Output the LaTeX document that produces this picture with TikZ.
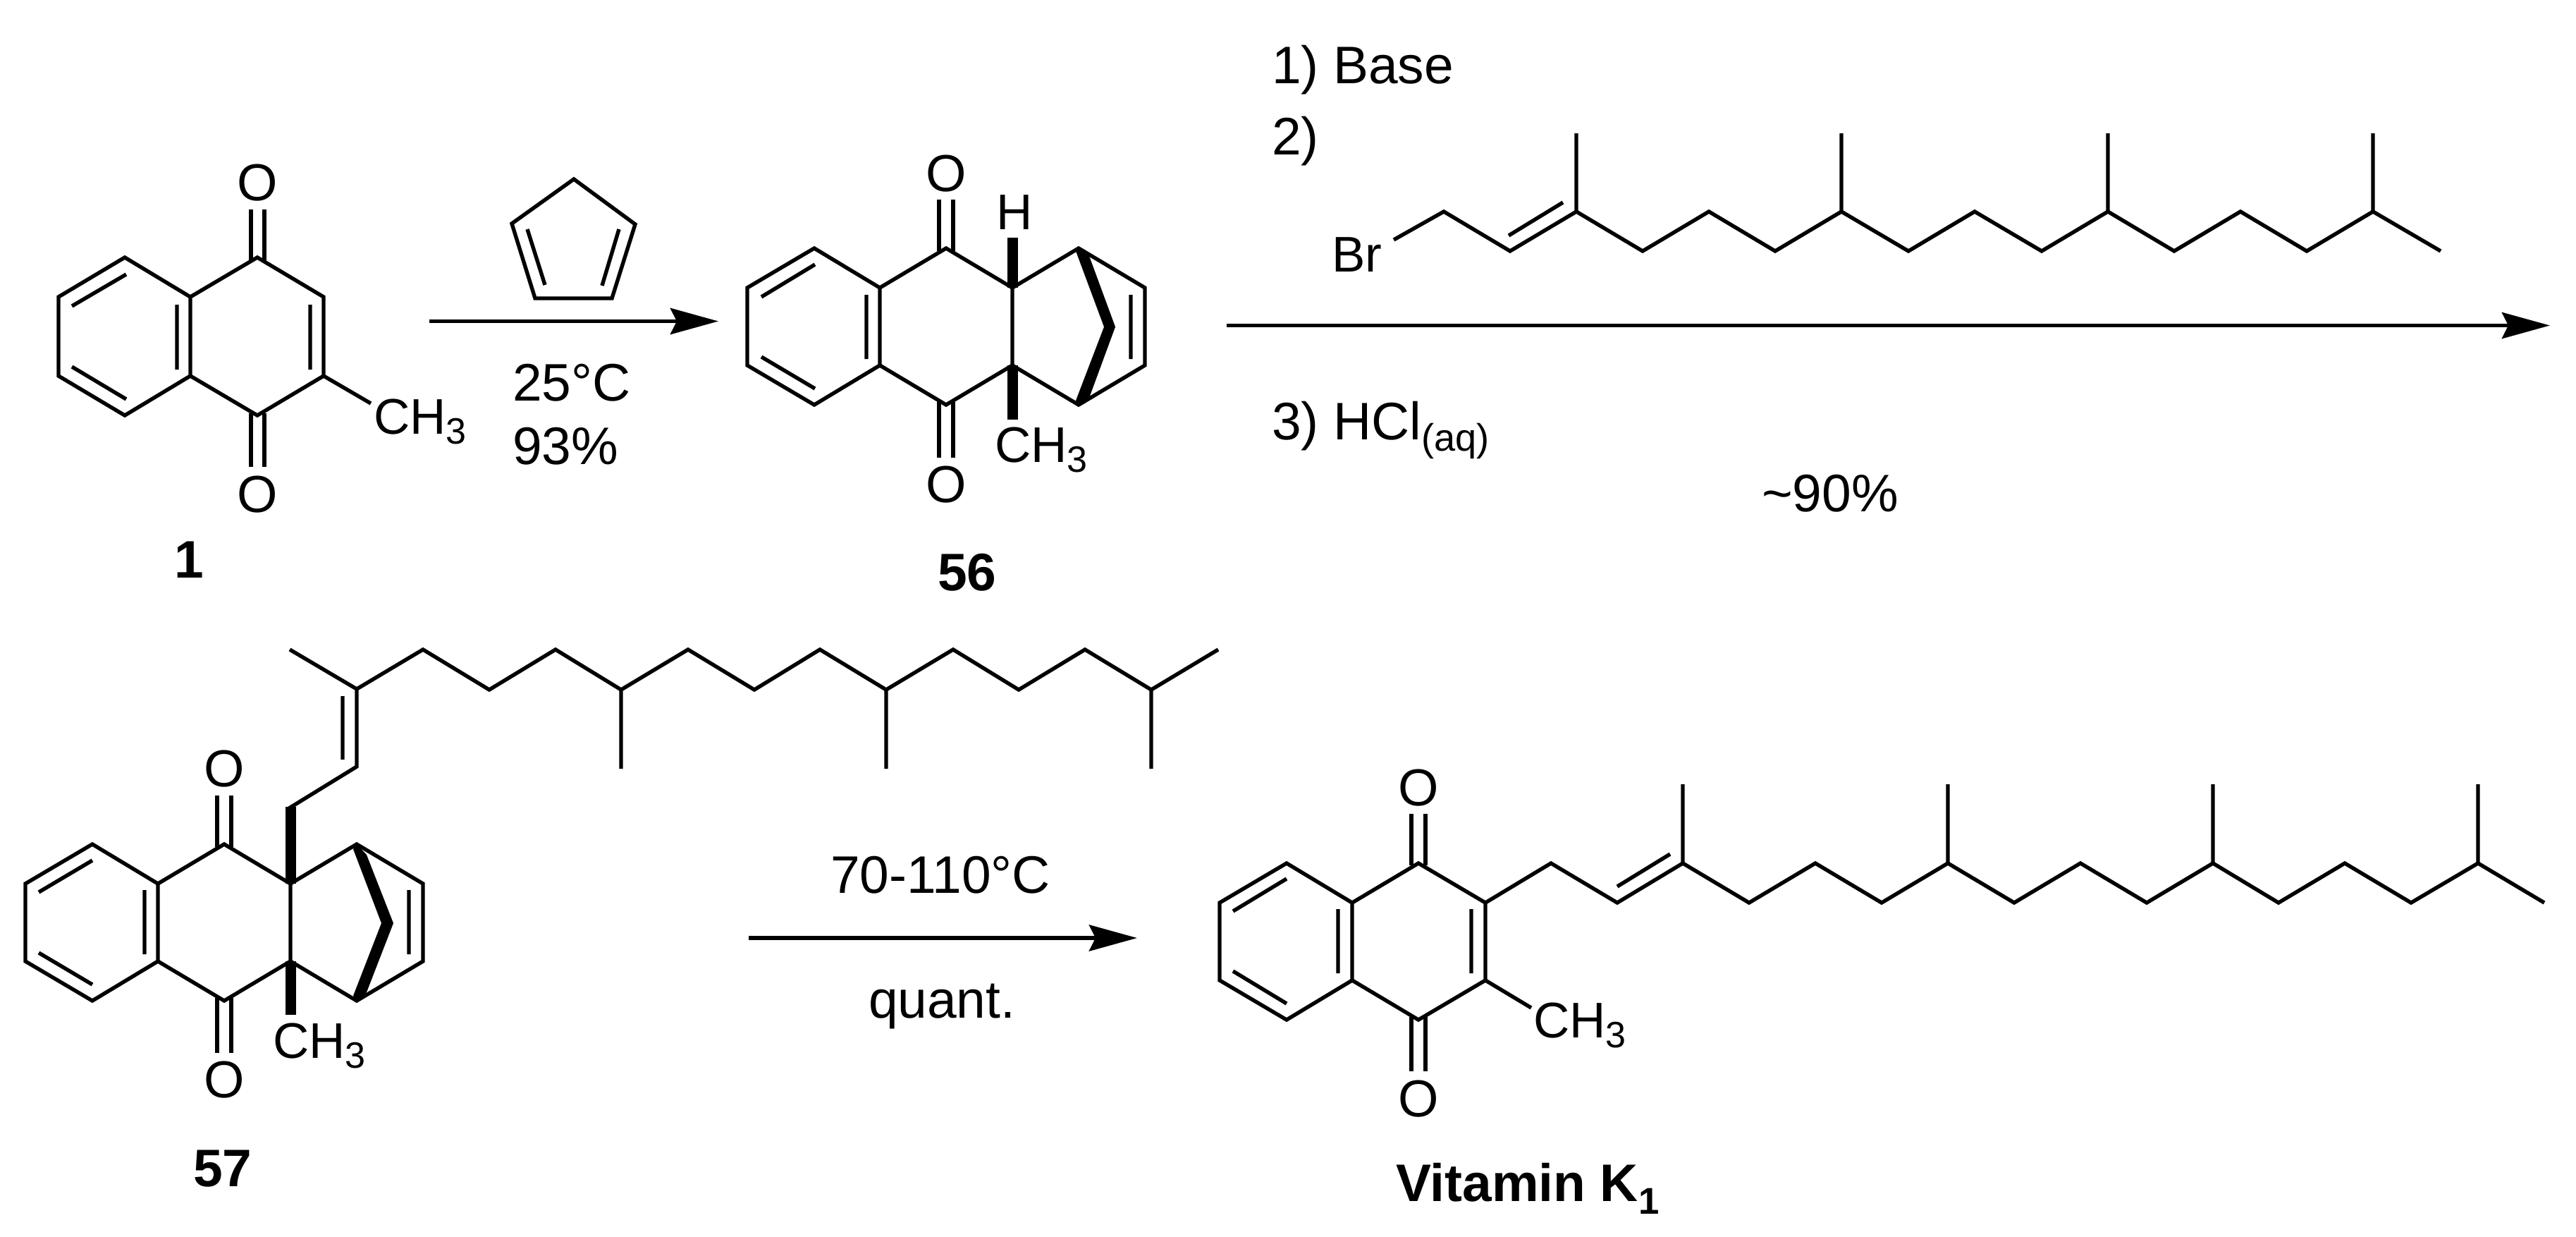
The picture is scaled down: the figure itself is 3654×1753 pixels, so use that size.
\documentclass[tikz,border=0pt]{standalone}
\usepackage{fontspec}
\setmainfont{Liberation Sans}
\usetikzlibrary{arrows.meta}
\newcommand{\lblfont}{\fontsize{20.2}{20.2}\selectfont}
\newcommand{\oxyfont}{\fontsize{21}{21}\selectfont}
\newcommand{\rgtfont}{\fontsize{21.3}{21.3}\selectfont}
\newcommand{\subfont}{\fontsize{14.8}{14.8}\selectfont}
\newcommand{\subthree}{\raisebox{-0.14cm}{\subfont 3}}
\tikzset{
  x=0.01cm, y=-0.01cm,
  bond/.style={line width=0.054cm, line join=miter},
  boldbond/.style={line width=0.15cm},
  solidwedge/.style={fill=black, draw=none},
  rxn/.style={line width=0.058cm, -{Stealth[length=0.68cm, width=0.37cm, inset=0.09cm]}},
  txt/.style={inner sep=0pt, outer sep=0pt, anchor=base west, font=\lblfont},
  rgt/.style={inner sep=0pt, outer sep=0pt, anchor=base west, font=\rgtfont},
  lab/.style={inner sep=0pt, outer sep=0pt, anchor=base west, font=\rgtfont\bfseries},
  oxy/.style={inner sep=0pt, outer sep=0pt, anchor=center, font=\oxyfont},
}
\begin{document}
\begin{tikzpicture}
\useasboundingbox (0,0) rectangle (3654,1753);
% ---------- compound 1
\foreach \n/\p in {a1/{83,421},a2/{177,365},a3/{270,421},a4/{270,533},a5/{177,589},a6/{83,533},a7/{365,365},a8/{459,421},a9/{459,533},a10/{365,589},
 ai1/{102,434},ai2/{179,389},ai3/{102,520},ai4/{179,566},ai5/{251,432},ai6/{251,524},ai7/{440,432},ai8/{440,524},
 ao1/{356,297},ao2/{356,370},ao3/{375,297},ao4/{375,370},ao5/{356,586},ao6/{356,662},ao7/{375,586},ao8/{375,662},ame/{526,572}}
 {\coordinate (\n) at (\p);}
\draw[bond] (a1)--(a2)--(a3)--(a4)--(a5)--(a6)--cycle;
\draw[bond] (a3)--(a7)--(a8)--(a9)--(a10)--(a4);
\draw[bond] (ai1)--(ai2) (ai3)--(ai4) (ai5)--(ai6) (ai7)--(ai8);
\draw[bond] (ao1)--(ao2) (ao3)--(ao4) (ao5)--(ao6) (ao7)--(ao8);
\draw[bond] (a9)--(ame);
\node[oxy] (aO1) at (365,259) {O};
\node[oxy] (aO2) at (365,701) {O};
\node[txt] (aMe) at (530,615) {CH\subthree};
\node[lab] (l1) at (247,819) {1};
% ---------- cyclopentadiene
\foreach \n/\p in {p1/{814,254},p2/{726,317},p3/{901,318},p4/{759,423},p5/{868,423},pi1/{748,325},pi2/{773,404},pi3/{878,325},pi4/{854,405}}
 {\coordinate (\n) at (\p);}
\draw[bond] (p1)--(p3)--(p5)--(p4)--(p2)--cycle;
\draw[bond] (pi1)--(pi2) (pi3)--(pi4);
\coordinate (r1s) at (609,455.5); \coordinate (r1e) at (1019,455.5);
\draw[rxn] (r1s)--(r1e);
\node[rgt] (t25) at (727,568) {25°C};
\node[rgt] (t93) at (727,658) {93\%};
% ---------- compound 56
\foreach \n/\p in {b1/{1060,408},b2/{1155,352},b3/{1248,408},b4/{1248,518},b5/{1155,574},b6/{1060,518},b7/{1342,352},b8/{1436,408},b9/{1436,518},b10/{1342,574},b11/{1530,352},b12/{1624,408},b13/{1624,518},b14/{1530,574},
 bi1/{1080,421},bi2/{1156,375},bi3/{1080,506},bi4/{1156,551},bi5/{1229,418},bi6/{1229,509},bi7/{1604,418},bi8/{1604,509},
 bo1/{1332,283},bo2/{1332,356},bo3/{1352,283},bo4/{1352,356},bo5/{1332,570},bo6/{1332,649},bo7/{1352,570},bo8/{1352,649},
 bh/{1436,337},bm/{1436,595}}
 {\coordinate (\n) at (\p);}
\draw[bond] (b1)--(b2)--(b3)--(b4)--(b5)--(b6)--cycle;
\draw[bond] (b3)--(b7)--(b8)--(b9)--(b10)--(b4);
\draw[bond] (b8)--(b11)--(b12)--(b13)--(b14)--(b9);
\draw[bond] (bi1)--(bi2) (bi3)--(bi4) (bi5)--(bi6) (bi7)--(bi8);
\draw[bond] (bo1)--(bo2) (bo3)--(bo4) (bo5)--(bo6) (bo7)--(bo8);
\draw[boldbond] (b8)--(bh) (b9)--(bm);
\fill[solidwedge] (1526,356)--(b11)--(1545,363)--(1582,463.5)--(1545,564)--(b14)--(1526,568)--(1566,463.5)--cycle;
\node[oxy] (bO1) at (1342,246) {O};
\node[oxy] (bO2) at (1342,687) {O};
\node[txt] (bH) at (1413,325) {H};
\node[txt] (bMe) at (1411,655) {CH\subthree};
\node[lab] (l56) at (1330,837) {56};
% ---------- bromide reagent
\foreach \n/\p in {r0/{1977,340},r1/{2048,300},r2/{2142,356},r3/{2236,300},r4/{2330,356},r5/{2424,300},r6/{2518,356},r7/{2612,300},r8/{2707,356},r9/{2801,300},r10/{2896,356},r11/{2990,300},r12/{3084,356},r13/{3178,300},r14/{3272,356},r15/{3366,300},r16/{3462,356},
 rm1/{2236,189},rm2/{2612,189},rm3/{2990,189},rm4/{3366,189},ri1/{2140,334},ri2/{2217,287}}
 {\coordinate (\n) at (\p);}
\draw[bond] (r0)--(r1)--(r2)--(r3)--(r4)--(r5)--(r6)--(r7)--(r8)--(r9)--(r10)--(r11)--(r12)--(r13)--(r14)--(r15)--(r16);
\draw[bond] (r3)--(rm1) (r7)--(rm2) (r11)--(rm3) (r15)--(rm4) (ri1)--(ri2);
\node[rgt] (t1b) at (1804,118) {1) Base};
\node[rgt] (t2) at (1804,219) {2)};
\node[txt] (tBr) at (1889,385) {Br};
\coordinate (r2s) at (1740,461.5); \coordinate (r2e) at (3617,461.5);
\draw[rxn] (r2s)--(r2e);
\node[rgt] (t3) at (1804,623) {3) HCl\raisebox{-0.16cm}{\fontsize{15.4}{15.4}\selectfont (aq)}};
\node[rgt] (t90) at (2499,725) {\textasciitilde 90\%};
% ---------- compound 57
\foreach \n/\p in {c1/{36,1253},c2/{131,1197},c3/{224,1253},c4/{224,1363},c5/{131,1419},c6/{36,1363},c7/{318,1197},c8/{412,1253},c9/{412,1363},c10/{318,1419},c11/{506,1197},c12/{600,1253},c13/{600,1363},c14/{506,1419},
 ci1/{55,1265},ci2/{131,1220},ci3/{55,1351},ci4/{131,1396},ci5/{205,1262},ci6/{205,1353},ci7/{580,1262},ci8/{580,1353},
 co1/{308,1128},co2/{308,1201},co3/{328,1128},co4/{328,1201},co5/{308,1415},co6/{308,1493},co7/{328,1415},co8/{328,1493},
 cb/{412,1144},cb2/{412,1439},
 d1/{506,1087},d2/{506,977},d3/{411,921},d4/{600,921},d5/{694,978},d6/{788,921},d7/{881,978},d8/{976,921},d9/{1070,978},d10/{1163,921},d11/{1257,978},d12/{1352,921},d13/{1445,978},d14/{1539,921},d15/{1633,978},d16/{1728,921},
 dm1/{881,1090},dm2/{1257,1090},dm3/{1633,1090},di1/{486,987},di2/{486,1077}}
 {\coordinate (\n) at (\p);}
\draw[bond] (c1)--(c2)--(c3)--(c4)--(c5)--(c6)--cycle;
\draw[bond] (c3)--(c7)--(c8)--(c9)--(c10)--(c4);
\draw[bond] (c8)--(c11)--(c12)--(c13)--(c14)--(c9);
\draw[bond] (ci1)--(ci2) (ci3)--(ci4) (ci5)--(ci6) (ci7)--(ci8);
\draw[bond] (co1)--(co2) (co3)--(co4) (co5)--(co6) (co7)--(co8);
\draw[boldbond] (c8)--(cb) (c9)--(cb2);
\fill[solidwedge] (501,1204)--(c11)--(520,1212)--(558,1309)--(520,1407)--(c14)--(501,1412)--(541,1309)--cycle;
\draw[bond] (410,1146)--(d1)--(d2)--(d4)--(d5)--(d6)--(d7)--(d8)--(d9)--(d10)--(d11)--(d12)--(d13)--(d14)--(d15)--(d16);
\draw[bond] (d2)--(d3) (d7)--(dm1) (d11)--(dm2) (d15)--(dm3) (di1)--(di2);
\node[oxy] (cO1) at (318,1090) {O};
\node[oxy] (cO2) at (318,1531) {O};
\node[txt] (cMe) at (387,1500) {CH\subthree};
\node[lab] (l57) at (274,1682) {57};
% ---------- second arrow
\coordinate (r3s) at (1062,1330); \coordinate (r3e) at (1613,1330);
\draw[rxn] (r3s)--(r3e);
\node[rgt] (t70) at (1178,1266) {70-110°C};
\node[rgt] (tq) at (1232,1443) {quant.};
% ---------- vitamin K1
\foreach \n/\p in {e1/{1730,1280},e2/{1825,1224},e3/{1918,1280},e4/{1918,1390},e5/{1825,1446},e6/{1730,1390},e7/{2012,1224},e8/{2107,1280},e9/{2107,1390},e10/{2012,1446},
 ei1/{1749,1292},ei2/{1825,1246},ei3/{1749,1377},ei4/{1825,1423},ei5/{1898,1289},ei6/{1898,1380},ei7/{2087,1289},ei8/{2087,1380},
 eo1/{2002,1154},eo2/{2002,1227},eo3/{2022,1154},eo4/{2022,1227},eo5/{2002,1442},eo6/{2002,1519},eo7/{2022,1442},eo8/{2022,1519},eme/{2172,1429},
 f1/{2200,1224},f2/{2294,1280},f3/{2387,1224},f4/{2481,1280},f5/{2575,1224},f6/{2669,1280},f7/{2763,1224},f8/{2857,1280},f9/{2951,1224},f10/{3045,1280},f11/{3139,1224},f12/{3232,1280},f13/{3326,1224},f14/{3420,1280},f15/{3515,1224},f16/{3609,1280},
 fm1/{2387,1112},fm2/{2763,1112},fm3/{3139,1112},fm4/{3515,1112},fi1/{2294,1257},fi2/{2369,1211}}
 {\coordinate (\n) at (\p);}
\draw[bond] (e1)--(e2)--(e3)--(e4)--(e5)--(e6)--cycle;
\draw[bond] (e3)--(e7)--(e8)--(e9)--(e10)--(e4);
\draw[bond] (ei1)--(ei2) (ei3)--(ei4) (ei5)--(ei6) (ei7)--(ei8);
\draw[bond] (eo1)--(eo2) (eo3)--(eo4) (eo5)--(eo6) (eo7)--(eo8);
\draw[bond] (e9)--(eme);
\draw[bond] (e8)--(f1)--(f2)--(f3)--(f4)--(f5)--(f6)--(f7)--(f8)--(f9)--(f10)--(f11)--(f12)--(f13)--(f14)--(f15)--(f16);
\draw[bond] (f3)--(fm1) (f7)--(fm2) (f11)--(fm3) (f15)--(fm4) (fi1)--(fi2);
\node[oxy] (eO1) at (2012,1117) {O};
\node[oxy] (eO2) at (2012,1558) {O};
\node[txt] (eMe) at (2175,1471) {CH\subthree};
\node[lab] (lK) at (1980,1703) {Vitamin K\raisebox{-0.18cm}{\fontsize{15}{15}\selectfont 1}};
\end{tikzpicture}
\end{document}
